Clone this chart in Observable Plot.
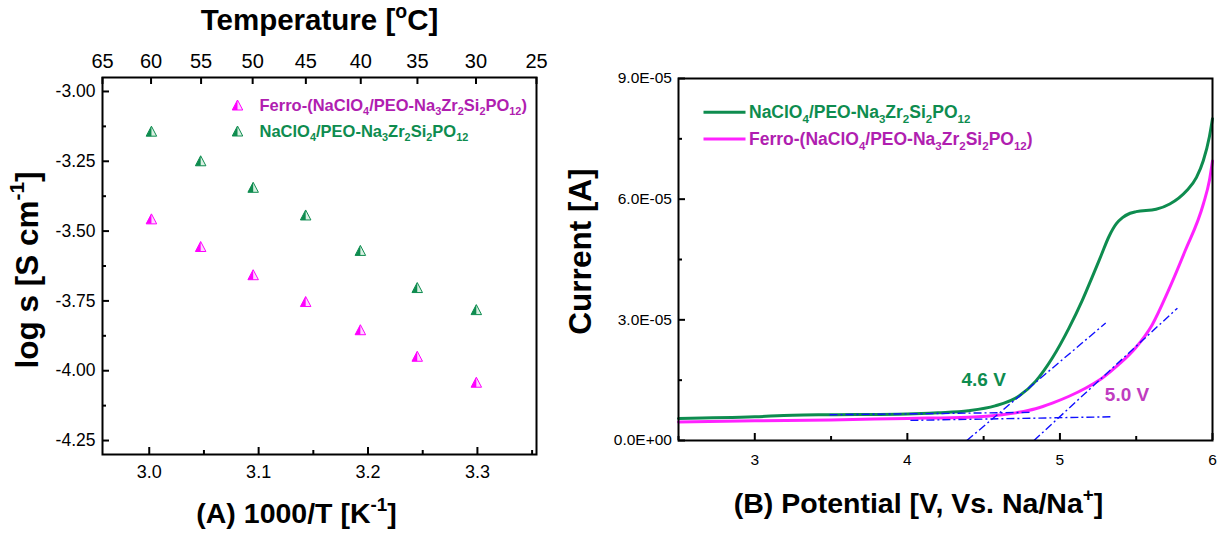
<!DOCTYPE html>
<html><head><meta charset="utf-8">
<script src="https://cdn.jsdelivr.net/npm/d3@7"></script>
<script src="https://cdn.jsdelivr.net/npm/@observablehq/plot@0.6"></script>
<style>
html,body{margin:0;padding:0;background:#fff;}
#wrap{display:flex;width:1225px;height:534px;overflow:hidden;}
#wrap svg{font-family:"Liberation Sans",Arial,sans-serif;overflow:visible;}
</style></head><body><div id="wrap"></div>
<script>
// ---------- Panel A data ----------
const invT = [3.002, 3.047, 3.095, 3.143, 3.193, 3.245, 3.299];
const logSigmaFerro = [-3.458, -3.557, -3.658, -3.754, -3.855, -3.950, -4.043];
const logSigmaPlain = [-3.144, -3.250, -3.345, -3.444, -3.571, -3.704, -3.783];
const seriesA = ["Ferro-(NaClO_{4}/PEO-Na_{3}Zr_{2}Si_{2}PO_{12})", "NaClO_{4}/PEO-Na_{3}Zr_{2}Si_{2}PO_{12}"];
const tempTicks = [65, 60, 55, 50, 45, 40, 35, 30, 25];
const xTicksA = [3.0, 3.1, 3.2, 3.3];
const xMinorA = [3.05, 3.15, 3.25, 3.35];
const yTicksA = [-3.00, -3.25, -3.50, -3.75, -4.00, -4.25];
const yMinorA = [-3.125, -3.375, -3.625, -3.875, -4.125];

// ---------- Panel B data ----------
const potPlain = [2.5, 3.0, 3.25, 3.5, 4.0, 4.2, 4.4, 4.575, 4.73, 4.84, 4.95, 5.06, 5.145, 5.21, 5.27, 5.32, 5.37, 5.41, 5.46, 5.50, 5.63, 5.72, 5.83, 5.895, 5.94, 5.98, 6.0];
const curPlain = [5.5, 5.9, 6.3, 6.4, 6.6, 6.9, 7.4, 8.6, 11.0, 14.7, 20.5, 28.0, 34.7, 40.5, 46.0, 50.6, 53.9, 55.4, 56.5, 56.9, 57.5, 58.8, 62.1, 65.4, 69.6, 75.6, 80.0]; // x1e-6 A
const potFerro = [2.5, 3.0, 3.5, 4.0, 4.4, 4.62, 4.73, 4.84, 4.95, 5.06, 5.167, 5.276, 5.386, 5.495, 5.605, 5.71, 5.82, 5.94, 5.98, 6.0];
const curFerro = [4.6, 4.9, 5.1, 5.5, 5.8, 6.4, 7.0, 7.9, 9.3, 11.0, 13.0, 15.5, 18.9, 23.0, 28.8, 37.2, 47.1, 58.8, 64.7, 69.5]; // x1e-6 A
const seriesB = ["NaClO_{4}/PEO-Na_{3}Zr_{2}Si_{2}PO_{12}", "Ferro-(NaClO_{4}/PEO-Na_{3}Zr_{2}Si_{2}PO_{12})"];
// onset construction lines: [x1, y1(1e-6), x2, y2(1e-6)]
const tangentLines = [
  [4.39, 0, 5.30, 29.2],
  [4.83, 0, 5.77, 32.9],
  [3.49, 6.4, 4.82, 7.0],
  [4.02, 5.0, 5.34, 5.9]
];
const onsetLabels = ["4.6 V", "5.0 V"];
const onsetX = [4.50, 5.44];
const onsetY = [15.1, 11.3]; // x1e-6 A
const xTicksB = [3, 4, 5, 6];
const xMinorB = [2.5, 3.5, 4.5, 5.5];
const yTicksB = [0, 3e-5, 6e-5, 9e-5];
const yMinorB = [1.5e-5, 4.5e-5, 7.5e-5];

// ---------- styles ----------
const GREEN = "#0e8c4f", MAG = "#ff22ff", MAGTXT = "#b01eb0", MAGANN = "#c03cc0", BLUE = "#1010ff";

const triOutline = {draw(ctx, size) { const r = Math.sqrt(size / Math.PI); ctx.moveTo(0, -1.1 * r); ctx.lineTo(1.05 * r, 0.9 * r); ctx.lineTo(-1.05 * r, 0.9 * r); ctx.closePath(); }};
const triHalf = {draw(ctx, size) { const r = Math.sqrt(size / Math.PI); ctx.moveTo(0, -1.1 * r); ctx.lineTo(0, 0.9 * r); ctx.lineTo(-1.05 * r, 0.9 * r); ctx.closePath(); }};
const legendLine = {draw(ctx) { ctx.moveTo(-21, 0); ctx.lineTo(21, 0); }};

function rich(node) {
  const s = node.textContent;
  if (!/[_^]\{/.test(s)) return;
  const fs = parseFloat(getComputedStyle(node).fontSize) || 14;
  node.textContent = "";
  const parts = s.split(/(_\{[^}]*\}|\^\{[^}]*\})/).filter(p => p !== "");
  let cur = 0;
  for (const p of parts) {
    let target = 0, size = null, txt = p;
    if (p.startsWith("_{")) { target = 0.28 * fs; size = 0.66 * fs; txt = p.slice(2, -1); }
    else if (p.startsWith("^{")) { target = -0.42 * fs; size = 0.66 * fs; txt = p.slice(2, -1); }
    const t = document.createElementNS("http://www.w3.org/2000/svg", "tspan");
    t.setAttribute("dy", (target - cur).toFixed(2));
    if (size) t.setAttribute("font-size", size.toFixed(2));
    t.textContent = txt;
    node.appendChild(t);
    cur = target;
  }
}

// ---------- Panel A ----------
const A = {w: 560, h: 534, ml: 102, mr: 24, mt: 77, mb: 80};
const AH = A.h - A.mt - A.mb, AW = A.w - A.ml - A.mr;
const ptsFerro = invT.map((x, i) => ({x, y: logSigmaFerro[i]}));
const ptsPlain = invT.map((x, i) => ({x, y: logSigmaPlain[i]}));
const toInv = t => 1000 / (t + 273.15);

const plotA = Plot.plot({
  width: A.w, height: A.h,
  marginLeft: A.ml, marginRight: A.mr, marginTop: A.mt, marginBottom: A.mb,
  style: {fontFamily: "Liberation Sans, Arial, sans-serif", background: "white", overflow: "visible"},
  x: {domain: [toInv(65), toInv(25)]},
  y: {domain: [-4.30, -2.95]},
  marks: [
    Plot.axisX({anchor: "bottom", ticks: xTicksA, tickFormat: d => d.toFixed(1), tickSize: 0, tickPadding: 11, fontSize: 18, label: null}),
    Plot.axisX({anchor: "top", ticks: tempTicks.map(toInv), tickFormat: d => String(Math.round(1000 / d - 273.15)), tickSize: 0, tickPadding: 10, fontSize: 20, label: null}),
    Plot.axisY({anchor: "left", ticks: yTicksA, tickFormat: d => d.toFixed(2), tickSize: 0, tickPadding: 7, fontSize: 17.5, label: null}),
    Plot.tickX(xTicksA, {x: d => d, insetTop: AH - 7, strokeWidth: 2, stroke: "black"}),
    Plot.tickX(xMinorA, {x: d => d, insetTop: AH - 4, strokeWidth: 2, stroke: "black"}),
    Plot.tickX(tempTicks.map(toInv), {x: d => d, insetBottom: AH - 7, strokeWidth: 2, stroke: "black"}),
    Plot.tickY(yTicksA, {y: d => d, insetRight: AW - 7, strokeWidth: 2, stroke: "black"}),
    Plot.tickY(yMinorA, {y: d => d, insetRight: AW - 4, strokeWidth: 2, stroke: "black"}),
    Plot.dot(ptsFerro, {x: "x", y: "y", symbol: triOutline, r: 5, fill: "#ffd6ff", stroke: "#ff00ff", strokeWidth: 1}),
    Plot.dot(ptsFerro, {x: "x", y: "y", symbol: triHalf, r: 5, fill: "#ff00ff", stroke: "none"}),
    Plot.dot(ptsPlain, {x: "x", y: "y", symbol: triOutline, r: 5, fill: "#d8f0e2", stroke: GREEN, strokeWidth: 1}),
    Plot.dot(ptsPlain, {x: "x", y: "y", symbol: triHalf, r: 5, fill: GREEN, stroke: "none"}),
    // legend
    Plot.dot([seriesA[0]], {frameAnchor: "top-left", dx: 135, dy: 28, symbol: triOutline, r: 5, fill: "#ffd6ff", stroke: "#ff00ff", strokeWidth: 1}),
    Plot.dot([seriesA[0]], {frameAnchor: "top-left", dx: 135, dy: 28, symbol: triHalf, r: 5, fill: "#ff00ff", stroke: "none"}),
    Plot.dot([seriesA[1]], {frameAnchor: "top-left", dx: 135, dy: 54, symbol: triOutline, r: 5, fill: "#d8f0e2", stroke: GREEN, strokeWidth: 1}),
    Plot.dot([seriesA[1]], {frameAnchor: "top-left", dx: 135, dy: 54, symbol: triHalf, r: 5, fill: GREEN, stroke: "none"}),
    Plot.text([seriesA[0]], {frameAnchor: "top-left", dx: 157, dy: 28, text: d => d, textAnchor: "start", lineAnchor: "middle", fill: MAGTXT, fontSize: 16.5, fontWeight: "bold"}),
    Plot.text([seriesA[1]], {frameAnchor: "top-left", dx: 157, dy: 54, text: d => d, textAnchor: "start", lineAnchor: "middle", fill: GREEN, fontSize: 16.5, fontWeight: "bold"}),
    // titles
    Plot.text(["Temperature [^{o}C]"], {frameAnchor: "top", dy: -57, text: d => d, textAnchor: "middle", lineAnchor: "middle", fontSize: 29.5, fontWeight: "bold", fill: "black"}),
    Plot.text(["(A) 1000/T [K^{-1}]"], {frameAnchor: "bottom", dx: -23, dy: 59, text: d => d, textAnchor: "middle", lineAnchor: "middle", fontSize: 28.5, fontWeight: "bold", fill: "black"}),
    Plot.text(["log s [S cm^{-1}]"], {frameAnchor: "left", dx: -75, dy: 4, rotate: -90, text: d => d, textAnchor: "middle", lineAnchor: "middle", fontSize: 31.5, fontWeight: "bold", fill: "black"}),
    Plot.frame({stroke: "black", strokeWidth: 2})
  ]
});

// ---------- Panel B ----------
const B = {w: 665, h: 534, ml: 118, mr: 13, mt: 78, mb: 94};
const BH = B.h - B.mt - B.mb, BW = B.w - B.ml - B.mr;
const lineData = [
  ...potPlain.map((x, i) => ({x, y: curPlain[i] * 1e-6, s: seriesB[0]})),
  ...potFerro.map((x, i) => ({x, y: curFerro[i] * 1e-6, s: seriesB[1]}))
];
const tangents = tangentLines.map(([x1, y1, x2, y2]) => ({x1, y1: y1 * 1e-6, x2, y2: y2 * 1e-6}));
const onsets = onsetLabels.map((label, i) => ({label, x: onsetX[i], y: onsetY[i] * 1e-6}));
const sciFmt = d => {
  if (d === 0) return "0.0E+00";
  const [m, e] = d.toExponential(1).split("e");
  const n = +e;
  return m + "E" + (n < 0 ? "-" : "+") + String(Math.abs(n)).padStart(2, "0");
};

const plotB = Plot.plot({
  width: B.w, height: B.h,
  marginLeft: B.ml, marginRight: B.mr, marginTop: B.mt, marginBottom: B.mb,
  style: {fontFamily: "Liberation Sans, Arial, sans-serif", background: "white", overflow: "visible"},
  x: {domain: [2.5, 6]},
  y: {domain: [0, 9e-5]},
  color: {domain: seriesB, range: [GREEN, MAG]},
  marks: [
    Plot.axisX({anchor: "bottom", ticks: xTicksB, tickFormat: d => String(d), tickSize: 0, tickPadding: 13, fontSize: 15.5, label: null}),
    Plot.axisY({anchor: "left", ticks: yTicksB, tickFormat: sciFmt, tickSize: 0, tickPadding: 6.5, fontSize: 15.5, label: null}),
    Plot.tickX(xTicksB, {x: d => d, insetTop: BH - 7, strokeWidth: 2, stroke: "black"}),
    Plot.tickX(xMinorB, {x: d => d, insetTop: BH - 4, strokeWidth: 2, stroke: "black"}),
    Plot.tickY(yTicksB, {y: d => d, insetRight: BW - 7, strokeWidth: 2, stroke: "black"}),
    Plot.tickY(yMinorB, {y: d => d, insetRight: BW - 4, strokeWidth: 2, stroke: "black"}),
    Plot.line(lineData, {x: "x", y: "y", z: "s", stroke: "s", strokeWidth: 3, curve: "monotone-x"}),
    Plot.link(tangents, {x1: "x1", y1: "y1", x2: "x2", y2: "y2", stroke: BLUE, strokeWidth: 1.4, strokeDasharray: "8,3,2,3", clip: true}),
    Plot.text(onsets, {x: "x", y: "y", text: "label", fill: (d, i) => i === 0 ? GREEN : MAGANN, fontSize: 19, fontWeight: "bold"}),
    // legend
    Plot.dot([seriesB[0]], {frameAnchor: "top-left", dx: 46, dy: 33.7, symbol: legendLine, r: 5, fill: "none", stroke: GREEN, strokeWidth: 3}),
    Plot.dot([seriesB[1]], {frameAnchor: "top-left", dx: 46, dy: 60.5, symbol: legendLine, r: 5, fill: "none", stroke: MAG, strokeWidth: 3}),
    Plot.text([seriesB[0]], {frameAnchor: "top-left", dx: 70.5, dy: 33.7, text: d => d, textAnchor: "start", lineAnchor: "middle", fill: GREEN, fontSize: 17.5, fontWeight: "bold"}),
    Plot.text([seriesB[1]], {frameAnchor: "top-left", dx: 70.5, dy: 60.5, text: d => d, textAnchor: "start", lineAnchor: "middle", fill: MAGTXT, fontSize: 17.5, fontWeight: "bold"}),
    // titles
    Plot.text(["(B) Potential [V, Vs. Na/Na^{+}]"], {frameAnchor: "bottom", dx: -27, dy: 63.5, text: d => d, textAnchor: "middle", lineAnchor: "middle", fontSize: 28.5, fontWeight: "bold", fill: "black"}),
    Plot.text(["Current [A]"], {frameAnchor: "left", dx: -98, dy: -8, rotate: -90, text: d => d, textAnchor: "middle", lineAnchor: "middle", fontSize: 31.5, fontWeight: "bold", fill: "black"}),
    Plot.frame({stroke: "black", strokeWidth: 2})
  ]
});

const wrap = document.getElementById("wrap");
wrap.appendChild(plotA);
wrap.appendChild(plotB);
for (const p of [plotA, plotB]) d3.select(p).selectAll("text").each(function() { rich(this); });
</script></body></html>
